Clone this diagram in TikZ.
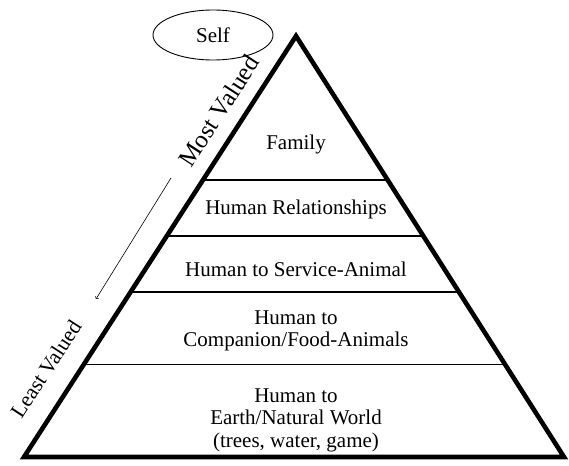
\documentclass[tikz,border=0pt]{standalone}
\usepackage{fontspec}
\setmainfont{Liberation Serif}
\usetikzlibrary{calc,shapes.geometric}
\begin{document}
\begin{tikzpicture}[x=1pt,y=-1pt,
    tier/.style={line width=1.1pt},
    tierlabel/.style={font=\fontsize{21}{22.5}\selectfont,align=center}]
    \useasboundingbox (0,0) rectangle (569,465);
    \coordinate (apex) at (296,36);
    \coordinate (bl) at (24,457);
    \coordinate (br) at (564,457);
    \draw[line width=4.6pt,line join=miter] (apex) -- (br) -- (bl) -- cycle;
    \foreach \t in {0.342,0.475,0.608,0.781}
        \draw[tier] ($(apex)!\t!(bl)$) -- ($(apex)!\t!(br)$);
    \node[tierlabel] (family) at (296,144) {Family};
    \node[tierlabel] (relations) at (296,209) {Human Relationships};
    \node[tierlabel] (service) at (296,269) {Human to Service-Animal};
    \node[tierlabel] (companion) at (296,331) {Human to\\Companion/Food-Animals};
    \node[tierlabel] (earth) at (296,420) {Human to\\Earth/Natural World\\(trees, water, game)};
    \node[draw,ellipse,line width=0.9pt,minimum width=120pt,minimum height=50pt,tierlabel] (self) at (213,35) {Self};
    \node[tierlabel,font=\fontsize{25}{26}\selectfont,rotate=57] (mostvalued) at (219,111) {Most Valued};
    \node[tierlabel,font=\fontsize{21.5}{23}\selectfont,rotate=57] (leastvalued) at (46,369) {Least Valued};
    \coordinate (arrowtop) at (171,178);
    \coordinate (arrowbot) at (96,299);
    \draw[->,line width=0.6pt] (arrowtop) -- (arrowbot);
\end{tikzpicture}
\end{document}
